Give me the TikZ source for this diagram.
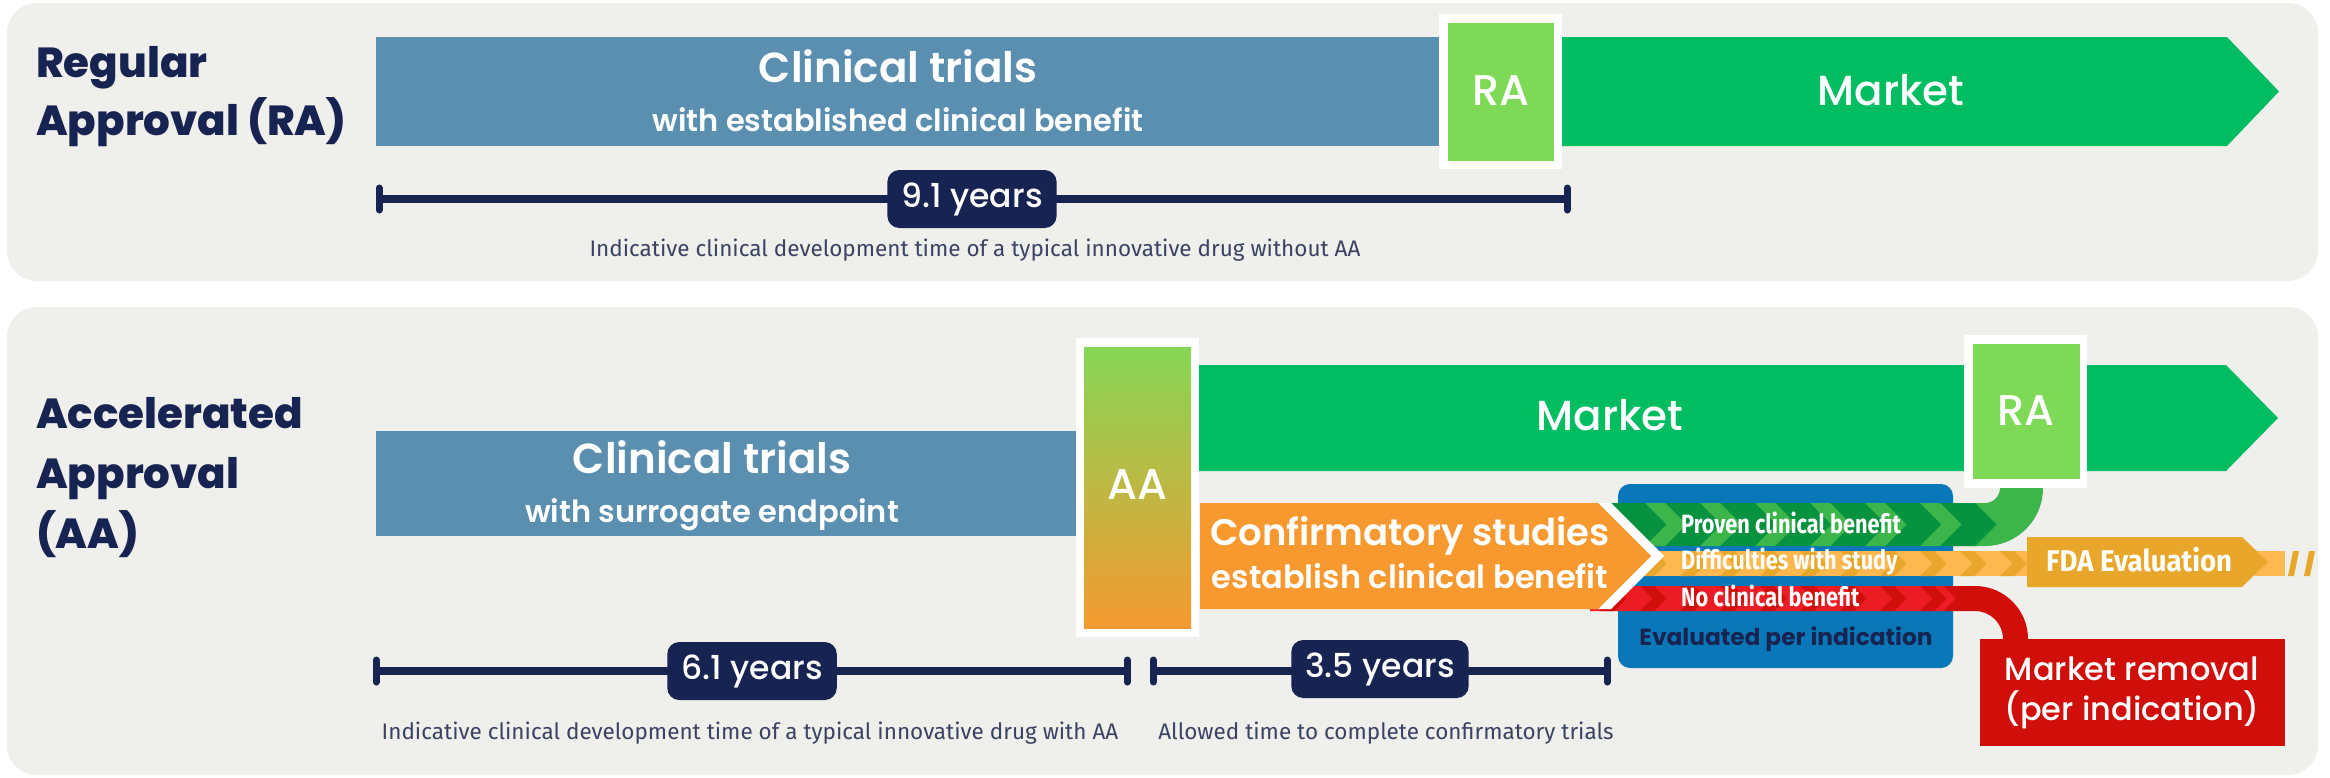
\documentclass[tikz,border=0pt]{standalone}
\usepackage{fontspec}
\setmainfont{Poppins}
\newfontfamily\popmed{Poppins Medium}
\newfontfamily\popsemi{Poppins SemiBold}
\newfontfamily\popxb{Poppins ExtraBold}
\newfontfamily\capfont{Fira Sans}
\newfontfamily\bandfont{Fira Sans}[FakeStretch=0.82]
\newfontfamily\fdafont{Fira Sans}[FakeStretch=0.92]

\definecolor{panel}{HTML}{EFEFEB}
\definecolor{navy}{HTML}{172350}
\definecolor{trial}{HTML}{5A8FAF}
\definecolor{market}{HTML}{00BD62}
\definecolor{approve}{HTML}{7ED957}
\definecolor{confirm}{HTML}{F7992F}
\definecolor{evalblue}{HTML}{0A78B8}
\definecolor{provendk}{HTML}{06923E}
\definecolor{provenlt}{HTML}{3CB54A}
\definecolor{difflt}{HTML}{FDB850}
\definecolor{diffdk}{HTML}{E8A72A}
\definecolor{nobright}{HTML}{EC1C24}
\definecolor{nodark}{HTML}{D00F0A}
\definecolor{captext}{HTML}{3B4262}
\definecolor{aatop}{HTML}{86D656}
\definecolor{aabot}{HTML}{F59A30}

% one ">" stripe: colour, left x, top y, half height, stripe width
\newcommand\chev[5]{\fill[#1] (#2,#3) -- ++(#5,0) -- ++(#4,#4) -- ++(-#4,#4) -- ++(-#5,0) -- ++(#4,-#4) -- cycle;}

\begin{document}
\begin{tikzpicture}[x=1pt,y=-1pt,
  panelbox/.style={fill=panel, rounded corners=30pt},
  heading/.style={anchor=base west, inner sep=0, text=navy, font=\popxb\fontsize{42}{42}\selectfont},
  wtext/.style={anchor=base, inner sep=0, text=white},
  bigtext/.style={wtext, font=\popsemi\fontsize{42}{42}\selectfont},
  subtext/.style={wtext, font=\popsemi\fontsize{30.5}{30.5}\selectfont},
  stamp/.style={wtext, font=\popmed\fontsize{43}{43}\selectfont},
  badge/.style={fill=navy, rounded corners=12pt, text=white, inner xsep=14pt, inner ysep=0pt,
                minimum height=58pt, font=\popmed\fontsize{33}{33}\selectfont},
  caption/.style={anchor=base, inner sep=0, text=captext, font=\capfont\fontsize{22.5}{22.5}\selectfont},
  bandlabel/.style={anchor=base west, inner sep=0, text=white, font=\bandfont\bfseries\fontsize{26.5}{26.5}\selectfont},
  ruler/.style={draw=navy, line width=8pt},
  tick/.style={draw=navy, line width=7pt, line cap=round}]

\useasboundingbox (0,0) rectangle (2330,777);
\fill[white] (0,0) rectangle (2330,777);

% ---------- panels ----------
\fill[panelbox] (7,3) rectangle (2318,281);
\fill[panelbox] (7,307) rectangle (2318,775);

% ---------- regular approval ----------
\node[heading] (hreg1) at (36,77) {Regular};
\node[heading] (hreg2) at (36,135) {Approval (RA)};

\fill[trial] (376,37) rectangle (1441,146);
\node[bigtext] (ctra) at (898,82) {Clinical trials};
\node[subtext] (ctrasub) at (898,131) {with established clinical benefit};

\fill[market] (1560,37) -- (2227,37) -- (2279,91.5) -- (2227,146) -- (1560,146) -- cycle;
\node[stamp, font=\popmed\fontsize{42}{42}\selectfont] (mkra) at (1891,105) {Market};

\fill[white] (1439,14) rectangle (1562,169);
\fill[approve] (1448,23) rectangle (1554,161);
\node[stamp] (rabox) at (1501,105) {RA};

\coordinate (r1l) at (379,199);
\coordinate (r1r) at (1567,199);
\draw[ruler] (r1l) -- (r1r);
\draw[tick] (379,188) -- (379,210);
\draw[tick] (1567,188) -- (1567,210);
\node[badge] (b91) at (972,199) {9.1 years};
\node[caption] (cap1) at (975,256) {Indicative clinical development time of a typical innovative drug without AA};

% ---------- accelerated approval ----------
\node[heading] (hacc1) at (36,428) {Accelerated};
\node[heading] (hacc2) at (36,488) {Approval};
\node[heading] (hacc3) at (36,548) {(AA)};

\fill[trial] (376,431) rectangle (1080,536);
\node[bigtext] (ctaa) at (712,473) {Clinical trials};
\node[subtext] (ctaasub) at (712,522) {with surrogate endpoint};

\fill[market] (1195,365) -- (2226,365) -- (2278,418) -- (2226,471) -- (1195,471) -- cycle;
\node[stamp, font=\popmed\fontsize{42}{42}\selectfont] (mkaa) at (1610,430) {Market};

\fill[white] (1076,338) rectangle (1199,637);
\shade[top color=aatop, bottom color=aabot] (1084,347) rectangle (1191,628);
\node[stamp] (aabox) at (1137,499) {AA};

% evaluation panel behind the outcome streams
\fill[evalblue, rounded corners=12pt] (1618,484) rectangle (1953,668);
\node[anchor=base, inner sep=0, text=navy, font=\bfseries\fontsize{23.3}{23.3}\selectfont] (evalp) at (1786,645) {Evaluated per indication};

% proven benefit: bend up into the RA stamp
\fill[provenlt] (1950,503) -- (1985,503) arc[start angle=90,end angle=0,radius=15]
  -- (2000,482) -- (2043,482) -- (2043,488) arc[start angle=0,end angle=90,radius=58]
  -- (1950,546) -- cycle;
\fill[provendk] (1590,503) -- (1976,503) -- (1997.5,524.5) -- (1976,546) -- (1590,546) -- cycle;
\begin{scope}
  \clip (1590,503) -- (1976,503) -- (1997.5,524.5) -- (1976,546) -- (1590,546) -- cycle;
  \foreach \sx in {1590,1645,...,1980} {\chev{provenlt}{\sx}{503}{21.5}{20}}
\end{scope}

% difficulties: on to the FDA evaluation
\fill[difflt] (1590,551) rectangle (2030,576);
\begin{scope}
  \clip (1590,551) rectangle (2030,576);
  \foreach \sx in {1600,1640,...,2030} {\chev{diffdk}{\sx}{551}{12.5}{14}}
\end{scope}
\fill[difflt] (2255,551) rectangle (2285,576);
\fill[diffdk] (2288,576) -- (2294,576) -- (2299,551) -- (2293,551) -- cycle;
\fill[diffdk] (2304,576) -- (2310,576) -- (2315,551) -- (2309,551) -- cycle;
\fill[diffdk] (2027,537) -- (2242,537) -- (2268,562) -- (2242,587) -- (2027,587) -- cycle;
\node[anchor=base west, inner sep=0, text=white, font=\fdafont\bfseries\fontsize{30}{30}\selectfont] (fda) at (2046,571) {FDA Evaluation};

% no benefit: bend down into market removal
\fill[nodark] (1940,586) -- (1975,586) arc[start angle=-90,end angle=0,radius=53]
  -- (2028,645) -- (2003,645) -- (2003,639) arc[start angle=0,end angle=-90,radius=28]
  -- (1940,611) -- cycle;
\fill[nobright] (1590,586) -- (1943,586) -- (1955.5,598.5) -- (1943,611) -- (1590,611) -- cycle;
\begin{scope}
  \clip (1590,586) -- (1943,586) -- (1955.5,598.5) -- (1943,611) -- (1590,611) -- cycle;
  \foreach \sx in {1600,1640,...,1960} {\chev{nodark}{\sx}{586}{12.5}{14}}
\end{scope}

\node[bandlabel] (lproven) at (1681,533) {Proven clinical benefit};
\node[bandlabel] (ldiff) at (1681,569) {Difficulties with study};
\node[bandlabel] (lno) at (1681,606) {No clinical benefit};

% confirmatory studies arrow with its white edge
\fill[white] (1200,503) -- (1611,503) -- (1664,556) -- (1611,609) -- (1200,609) -- cycle;
\fill[confirm] (1200,503) -- (1598,503) -- (1651,556) -- (1598,609) -- (1200,609) -- cycle;
\node[wtext, font=\popsemi\fontsize{37}{37}\selectfont] (conf1) at (1410,545) {Confirmatory studies};
\node[wtext, font=\popsemi\fontsize{32}{32}\selectfont] (conf2) at (1410,588) {establish clinical benefit};

\fill[white] (1964,335) rectangle (2087,488);
\fill[approve] (1973,344) rectangle (2080,479);
\node[stamp] (raaa) at (2026,425) {RA};

\fill[nodark] (1980,639) rectangle (2285,746);
\node[wtext, font=\popmed\fontsize{32}{32}\selectfont] (rem1) at (2132,680) {Market removal};
\node[wtext, font=\popmed\fontsize{32}{32}\selectfont] (rem2) at (2132,720) {(per indication)};

% time rulers
\coordinate (r2l) at (376,671);
\coordinate (r2r) at (1127,671);
\coordinate (r3l) at (1153,671);
\coordinate (r3r) at (1607,671);
\draw[ruler] (r2l) -- (r2r);
\draw[ruler] (r3l) -- (r3r);
\foreach \tx in {376,1127,1153,1607} {\draw[tick] (\tx,660) -- (\tx,682);}
\node[badge] (b61) at (752,671) {6.1 years};
\node[badge] (b35) at (1380,669) {3.5 years};
\node[caption] (cap2) at (750,739) {Indicative clinical development time of a typical innovative drug with AA};
\node[caption] (cap3) at (1386,739) {Allowed time to complete confirmatory trials};

\end{tikzpicture}
\end{document}
